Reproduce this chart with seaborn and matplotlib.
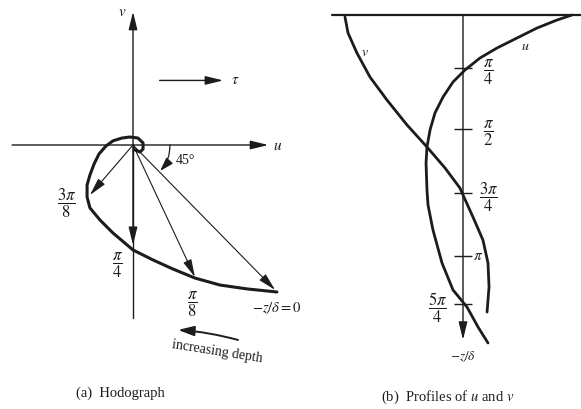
"""
Ekman layer sketch: hodograph and velocity profiles
"""
import numpy as np
import pandas as pd
import seaborn as sns
import matplotlib.pyplot as plt

sns.set_style("white")
plt.rcParams['font.family'] = ['Liberation Serif', 'DejaVu Serif']
plt.rcParams['mathtext.fontset'] = 'stix'

INK = '#1c1c1c'

# Hodograph curve (surface -> deep), surface speed ~ 1
hodo_u = [0.702, 0.556, 0.424, 0.302, 0.195, 0.098, 0.0, -0.098, -0.161, -0.210,
          -0.224, -0.224, -0.210, -0.190, -0.166, -0.132, -0.098, -0.054, -0.015,
          0.024, 0.049, 0.049, 0.034, 0.010]
hodo_v = [-0.717, -0.702, -0.683, -0.649, -0.605, -0.561, -0.512, -0.429, -0.366,
          -0.307, -0.254, -0.195, -0.146, -0.093, -0.044, -0.005, 0.020, 0.034,
          0.039, 0.034, 0.010, -0.020, -0.034, -0.024]

# velocity vectors drawn at a few depths: -z/delta = 0, pi/8, pi/4, 3pi/8
vec_u = [0.693, 0.302, 0.0, -0.210]
vec_v = [-0.707, -0.644, -0.488, -0.244]

# profiles: depth (-z/delta) and velocity
u_depth = [0.0, 0.068, 0.176, 0.311, 0.446, 0.581, 0.743, 0.905, 1.108, 1.324,
           1.554, 1.784, 2.0, 2.365, 2.568, 2.905, 3.351, 3.716, 3.946, 4.216, 4.432]
u_prof = [1.038, 0.895, 0.705, 0.514, 0.324, 0.162, 0.019, -0.095, -0.190, -0.267,
          -0.314, -0.343, -0.352, -0.343, -0.333, -0.286, -0.200, -0.095, 0.038,
          0.143, 0.238]
v_depth = [0.027, 0.243, 0.514, 0.838, 1.149, 1.486, 1.784, 2.068, 2.338, 2.432,
           2.730, 3.041, 3.351, 3.676, 4.014]
v_prof = [-1.124, -1.095, -1.010, -0.886, -0.724, -0.533, -0.343, -0.171, -0.029,
          0.0, 0.095, 0.190, 0.238, 0.248, 0.229]

tick_depth = [0.716, 1.541, 2.405, 3.257, 3.905]
tick_labels = [r'$\dfrac{\pi}{4}$', r'$\dfrac{\pi}{2}$', r'$\dfrac{3\pi}{4}$',
               r'$\pi$', r'$\dfrac{5\pi}{4}$']

fig = plt.figure(figsize=(5.81, 4.09), dpi=100)

# ---------------- (a) Hodograph ----------------
ax1 = fig.add_axes([0, 0, 300 / 581, 1])
ax1.set_xlim(-133 / 205, 167 / 205)
ax1.set_ylim(-264 / 205, 145 / 205)
ax1.axis('off')

def arrow(ax, tip, tail, lw=0.8, head='-|>,head_length=0.9,head_width=0.22', **kw):
    ax.annotate('', xy=tip, xytext=tail,
                arrowprops=dict(arrowstyle=head, lw=lw, color=INK,
                                shrinkA=0, shrinkB=0, mutation_scale=12, **kw))

# axes of the hodograph
arrow(ax1, (0.66, 0), (-0.59, 0), lw=1.0)
arrow(ax1, (0, 0.65), (0, 0), lw=1.0)
ax1.plot([0, 0], [0, -0.844], color=INK, lw=1.0)
ax1.text(0.705, -0.005, '$u$', fontsize=11, ha='center', va='center', color=INK)
ax1.text(-0.05, 0.645, '$v$', fontsize=11, ha='center', va='center', color=INK)

# wind stress
arrow(ax1, (0.44, 0.315), (0.13, 0.315), lw=1.0)
ax1.text(0.50, 0.315, r'$\tau$', fontsize=11, ha='center', va='center', color=INK)

# spiral
hodo = pd.DataFrame({'u': hodo_u, 'v': hodo_v})
sns.lineplot(data=hodo, x='u', y='v', sort=False, estimator=None, ax=ax1,
             color=INK, lw=2.2, solid_joinstyle='round', solid_capstyle='round')

for vu, vv in zip(vec_u, vec_v):
    arrow(ax1, (vu, vv), (0, 0), lw=1.0 if vu == 0.0 else 0.8)

# 45 degree arc
arrow(ax1, (0.132, -0.127), (0.18, 0), lw=0.9,
      head='-|>,head_length=0.7,head_width=0.22', connectionstyle='arc3,rad=-0.2')
ax1.text(0.255, -0.075, '45°', fontsize=10, ha='center', va='center', color=INK)

ax1.text(-0.322, -0.283, r'$\dfrac{3\pi}{8}$', fontsize=12, ha='center', va='center', color=INK)
ax1.text(-0.078, -0.586, r'$\dfrac{\pi}{4}$', fontsize=12, ha='center', va='center', color=INK)
ax1.text(0.288, -0.776, r'$\dfrac{\pi}{8}$', fontsize=12, ha='center', va='center', color=INK)
ax1.text(0.700, -0.795, r'$-z/\delta = 0$', fontsize=10.5, ha='center', va='center', color=INK)

arrow(ax1, (0.220, -0.902), (0.512, -0.951), lw=1.4,
      head='-|>,head_length=0.8,head_width=0.25', connectionstyle='arc3,rad=0.05')
ax1.text(0.41, -1.01, 'increasing depth', fontsize=10, ha='center', va='center',
         rotation=-9, color=INK)
ax1.text(-0.063, -1.210, '(a)  Hodograph', fontsize=10.5, ha='center', va='center', color=INK)

# ---------------- (b) Profiles ----------------
ax2 = fig.add_axes([300 / 581, 0, 281 / 581, 1])
ax2.set_xlim(-163 / 105, 118 / 105)
ax2.set_ylim(394 / 74, -15 / 74)
ax2.axis('off')

ax2.plot([-1.248, 1.124], [0, 0], color=INK, lw=1.6)
arrow(ax2, (0, 4.39), (0, 0), lw=1.0)
ax2.hlines(tick_depth, -0.085, 0.085, color=INK, lw=1.0)
for d, lab in zip(tick_depth, tick_labels):
    if lab == r'$\pi$':
        ax2.text(0.14, d, lab, fontsize=11, ha='center', va='center', color=INK)
    elif '5' in lab:
        ax2.text(-0.24, d + 0.05, lab, fontsize=12, ha='center', va='center', color=INK)
    else:
        ax2.text(0.24, d + 0.06, lab, fontsize=12, ha='center', va='center', color=INK)

sns.lineplot(x=u_prof, y=u_depth, sort=False, estimator=None, ax=ax2, color=INK,
             lw=2.0, solid_joinstyle='round', solid_capstyle='round')
sns.lineplot(x=v_prof, y=v_depth, sort=False, estimator=None, ax=ax2, color=INK,
             lw=2.0, solid_joinstyle='round', solid_capstyle='round')
ax2.text(0.59, 0.43, '$u$', fontsize=10, ha='center', va='center', color=INK)
ax2.text(-0.93, 0.51, '$v$', fontsize=10, ha='center', va='center', color=INK)
ax2.text(0.0, 4.62, r'$-z/\delta$', fontsize=9.5, ha='center', va='center', color=INK)
ax2.text(-0.15, 5.16, '(b)  Profiles of $u$ and $v$', fontsize=10.5, ha='center',
         va='center', color=INK)

fig.savefig('out.png', dpi=100)
